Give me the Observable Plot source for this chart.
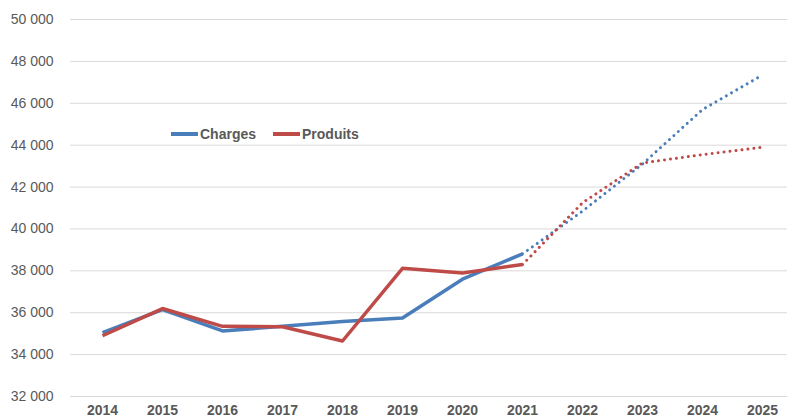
<!DOCTYPE html>
<html>
<head>
<meta charset="utf-8">
<script src="https://cdn.jsdelivr.net/npm/d3@7"></script>
<script src="https://cdn.jsdelivr.net/npm/@observablehq/plot@0.6"></script>
<style>
  html, body { margin: 0; padding: 0; background: #fff; overflow: hidden; }
  #wrap { position: relative; width: 787px; height: 418px; }
  .legend { position: absolute; top: 126px; left: 171px; display: flex; align-items: center;
            font-family: "Liberation Sans", Arial, sans-serif; font-weight: bold; font-size: 14px; color: #595959; }
  .legend .item { display: flex; align-items: center; margin-right: 17px; }
  .legend .sw { width: 27px; height: 3.5px; margin-right: 2px; }
</style>
</head>
<body>
<div id="wrap"></div>
<script>
const years = [2014, 2015, 2016, 2017, 2018, 2019, 2020, 2021, 2022, 2023, 2024, 2025];
const charges = [35050, 36150, 35130, 35350, 35580, 35750, 37600, 38810, 40850, 43100, 45700, 47350];
const produits = [34900, 36200, 35350, 35330, 34650, 38120, 37900, 38300, 41250, 43150, 43550, 43900];
const lastActualYear = 2021;
const seriesNames = ["Charges", "Produits"];
const yTicks = [32000, 34000, 36000, 38000, 40000, 42000, 44000, 46000, 48000, 50000];
const colors = ["#4a7ebb", "#be4b48"];

const rows = [];
years.forEach((y, i) => {
  rows.push({year: y, series: seriesNames[0], value: charges[i]});
  rows.push({year: y, series: seriesNames[1], value: produits[i]});
});
const actual = rows.filter(d => d.year <= lastActualYear);
const forecast = rows.filter(d => d.year >= lastActualYear);

const fmt = v => d3.format(",")(v).replace(/,/g, " ");

const chart = Plot.plot({
  width: 787,
  height: 418,
  marginLeft: 70,
  marginRight: -7,
  marginTop: 19,
  marginBottom: 22,
  style: {fontFamily: "'Liberation Sans', Arial, sans-serif", background: "#fff", overflow: "visible"},
  x: {type: "point", domain: years, padding: 0.5, label: null},
  y: {domain: [32000, 50000], label: null},
  color: {domain: seriesNames, range: colors},
  marks: [
    Plot.gridY(yTicks, {stroke: "#d9d9d9", strokeOpacity: 1, strokeWidth: 1}),
    Plot.axisY(yTicks, {tickSize: 0, tickPadding: 17, tickFormat: fmt, fontSize: 14, fill: "#595959", label: null}),
    Plot.axisX(years, {tickSize: 0, tickPadding: 9, tickFormat: d => String(d), fontSize: 14, fontWeight: "bold", fill: "#595959", label: null}),
    Plot.line(forecast, {x: "year", y: "value", z: "series", stroke: "series", strokeWidth: 3,
      strokeDasharray: "0.01 6", strokeLinecap: "round"}),
    Plot.line(actual, {x: "year", y: "value", z: "series", stroke: "series", strokeWidth: 3.5,
      strokeLinejoin: "round", strokeLinecap: "butt"})
  ]
});

const wrap = document.getElementById("wrap");
wrap.appendChild(chart);

const legend = document.createElement("div");
legend.className = "legend";
seriesNames.forEach((name, i) => {
  const item = document.createElement("div");
  item.className = "item";
  const sw = document.createElement("div");
  sw.className = "sw";
  sw.style.background = colors[i];
  const t = document.createElement("span");
  t.textContent = name;
  item.appendChild(sw);
  item.appendChild(t);
  legend.appendChild(item);
});
wrap.appendChild(legend);
</script>
</body>
</html>
